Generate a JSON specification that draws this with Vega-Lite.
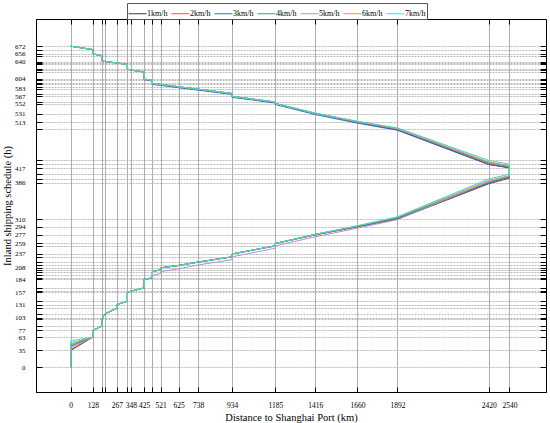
{
 "$schema": "https://vega.github.io/schema/vega-lite/v6.json",
 "width": 510, "height": 373,
 "autosize": {"type": "none"},
 "padding": {"left": 36, "top": 19, "right": 4, "bottom": 31},
 "config": {
  "font": "Liberation Serif",
  "view": {"stroke": "#000", "strokeWidth": 1},
  "axis": {"labelFont": "Liberation Serif", "titleFont": "Liberation Serif", "labelFontSize": 7.5, "titleFontSize": 10.5, "titleFontWeight": "normal", "labelColor": "#000", "titleColor": "#000", "domainColor": "#000", "tickColor": "#000", "domainWidth": 1, "tickWidth": 1, "labelOverlap": false, "labelFlush": false, "labelBound": false}
 },
 "datasets": {
  "rows": [
{"s":"1km/h","i":0,"d":0,"t":0},{"s":"1km/h","i":1,"d":0,"t":35},{"s":"1km/h","i":2,"d":128,"t":63},{"s":"1km/h","i":3,"d":128,"t":77},{"s":"1km/h","i":4,"d":180,"t":86},{"s":"1km/h","i":5,"d":180,"t":100},{"s":"1km/h","i":6,"d":199,"t":112},{"s":"1km/h","i":7,"d":267,"t":123},{"s":"1km/h","i":8,"d":267,"t":131},{"s":"1km/h","i":9,"d":328,"t":138},{"s":"1km/h","i":10,"d":328,"t":157},{"s":"1km/h","i":11,"d":348,"t":159},{"s":"1km/h","i":12,"d":425,"t":166},{"s":"1km/h","i":13,"d":425,"t":184},{"s":"1km/h","i":14,"d":473,"t":187},{"s":"1km/h","i":15,"d":473,"t":200},{"s":"1km/h","i":16,"d":521,"t":204},{"s":"1km/h","i":17,"d":521,"t":208},{"s":"1km/h","i":18,"d":625,"t":213},{"s":"1km/h","i":19,"d":738,"t":220},{"s":"1km/h","i":20,"d":934,"t":231},{"s":"1km/h","i":21,"d":934,"t":237},{"s":"1km/h","i":22,"d":1185,"t":254},{"s":"1km/h","i":23,"d":1185,"t":259},{"s":"1km/h","i":24,"d":1416,"t":277},{"s":"1km/h","i":25,"d":1660,"t":294},{"s":"1km/h","i":26,"d":1892,"t":310},{"s":"1km/h","i":27,"d":2420,"t":384},{"s":"1km/h","i":28,"d":2540,"t":396},{"s":"1km/h","i":29,"d":2540,"t":417},{"s":"1km/h","i":30,"d":2420,"t":425},{"s":"1km/h","i":31,"d":1892,"t":497},{"s":"1km/h","i":32,"d":1660,"t":513},{"s":"1km/h","i":33,"d":1416,"t":531},{"s":"1km/h","i":34,"d":1185,"t":552},{"s":"1km/h","i":35,"d":1185,"t":555},{"s":"1km/h","i":36,"d":934,"t":567},{"s":"1km/h","i":37,"d":934,"t":573},{"s":"1km/h","i":38,"d":738,"t":582},{"s":"1km/h","i":39,"d":625,"t":587},{"s":"1km/h","i":40,"d":521,"t":592},{"s":"1km/h","i":41,"d":473,"t":594},{"s":"1km/h","i":42,"d":473,"t":601},{"s":"1km/h","i":43,"d":425,"t":603},{"s":"1km/h","i":44,"d":425,"t":618},{"s":"1km/h","i":45,"d":348,"t":622},{"s":"1km/h","i":46,"d":328,"t":624},{"s":"1km/h","i":47,"d":328,"t":634},{"s":"1km/h","i":48,"d":267,"t":637},{"s":"1km/h","i":49,"d":199,"t":640},{"s":"1km/h","i":50,"d":180,"t":641},{"s":"1km/h","i":51,"d":180,"t":652},{"s":"1km/h","i":52,"d":128,"t":656},{"s":"1km/h","i":53,"d":128,"t":665},{"s":"1km/h","i":54,"d":0,"t":672},
{"s":"2km/h","i":0,"d":0,"t":0},{"s":"2km/h","i":1,"d":0,"t":37},{"s":"2km/h","i":2,"d":128,"t":63},{"s":"2km/h","i":3,"d":128,"t":77},{"s":"2km/h","i":4,"d":180,"t":86},{"s":"2km/h","i":5,"d":180,"t":100},{"s":"2km/h","i":6,"d":199,"t":112},{"s":"2km/h","i":7,"d":267,"t":123},{"s":"2km/h","i":8,"d":267,"t":131},{"s":"2km/h","i":9,"d":328,"t":138},{"s":"2km/h","i":10,"d":328,"t":157},{"s":"2km/h","i":11,"d":348,"t":159},{"s":"2km/h","i":12,"d":425,"t":166},{"s":"2km/h","i":13,"d":425,"t":184},{"s":"2km/h","i":14,"d":473,"t":187},{"s":"2km/h","i":15,"d":473,"t":200},{"s":"2km/h","i":16,"d":521,"t":204},{"s":"2km/h","i":17,"d":521,"t":208},{"s":"2km/h","i":18,"d":625,"t":213},{"s":"2km/h","i":19,"d":738,"t":220},{"s":"2km/h","i":20,"d":934,"t":231},{"s":"2km/h","i":21,"d":934,"t":237},{"s":"2km/h","i":22,"d":1185,"t":254},{"s":"2km/h","i":23,"d":1185,"t":259},{"s":"2km/h","i":24,"d":1416,"t":277},{"s":"2km/h","i":25,"d":1660,"t":294},{"s":"2km/h","i":26,"d":1892,"t":311},{"s":"2km/h","i":27,"d":2420,"t":385},{"s":"2km/h","i":28,"d":2540,"t":397},{"s":"2km/h","i":29,"d":2540,"t":418},{"s":"2km/h","i":30,"d":2420,"t":426},{"s":"2km/h","i":31,"d":1892,"t":498},{"s":"2km/h","i":32,"d":1660,"t":513},{"s":"2km/h","i":33,"d":1416,"t":531},{"s":"2km/h","i":34,"d":1185,"t":552},{"s":"2km/h","i":35,"d":1185,"t":555},{"s":"2km/h","i":36,"d":934,"t":567},{"s":"2km/h","i":37,"d":934,"t":573},{"s":"2km/h","i":38,"d":738,"t":582},{"s":"2km/h","i":39,"d":625,"t":587},{"s":"2km/h","i":40,"d":521,"t":592},{"s":"2km/h","i":41,"d":473,"t":594},{"s":"2km/h","i":42,"d":473,"t":601},{"s":"2km/h","i":43,"d":425,"t":603},{"s":"2km/h","i":44,"d":425,"t":618},{"s":"2km/h","i":45,"d":348,"t":622},{"s":"2km/h","i":46,"d":328,"t":624},{"s":"2km/h","i":47,"d":328,"t":634},{"s":"2km/h","i":48,"d":267,"t":637},{"s":"2km/h","i":49,"d":199,"t":640},{"s":"2km/h","i":50,"d":180,"t":641},{"s":"2km/h","i":51,"d":180,"t":652},{"s":"2km/h","i":52,"d":128,"t":656},{"s":"2km/h","i":53,"d":128,"t":665},{"s":"2km/h","i":54,"d":0,"t":672},
{"s":"3km/h","i":0,"d":0,"t":0},{"s":"3km/h","i":1,"d":0,"t":44},{"s":"3km/h","i":2,"d":128,"t":63},{"s":"3km/h","i":3,"d":128,"t":77},{"s":"3km/h","i":4,"d":180,"t":86},{"s":"3km/h","i":5,"d":180,"t":100},{"s":"3km/h","i":6,"d":199,"t":112},{"s":"3km/h","i":7,"d":267,"t":123},{"s":"3km/h","i":8,"d":267,"t":131},{"s":"3km/h","i":9,"d":328,"t":138},{"s":"3km/h","i":10,"d":328,"t":157},{"s":"3km/h","i":11,"d":348,"t":159},{"s":"3km/h","i":12,"d":425,"t":166},{"s":"3km/h","i":13,"d":425,"t":184},{"s":"3km/h","i":14,"d":473,"t":187},{"s":"3km/h","i":15,"d":473,"t":200},{"s":"3km/h","i":16,"d":521,"t":204},{"s":"3km/h","i":17,"d":521,"t":208},{"s":"3km/h","i":18,"d":625,"t":213},{"s":"3km/h","i":19,"d":738,"t":220},{"s":"3km/h","i":20,"d":934,"t":231},{"s":"3km/h","i":21,"d":934,"t":237},{"s":"3km/h","i":22,"d":1185,"t":254},{"s":"3km/h","i":23,"d":1185,"t":259},{"s":"3km/h","i":24,"d":1416,"t":278},{"s":"3km/h","i":25,"d":1660,"t":295},{"s":"3km/h","i":26,"d":1892,"t":312},{"s":"3km/h","i":27,"d":2420,"t":386},{"s":"3km/h","i":28,"d":2540,"t":398},{"s":"3km/h","i":29,"d":2540,"t":418},{"s":"3km/h","i":30,"d":2420,"t":424},{"s":"3km/h","i":31,"d":1892,"t":496},{"s":"3km/h","i":32,"d":1660,"t":511},{"s":"3km/h","i":33,"d":1416,"t":529},{"s":"3km/h","i":34,"d":1185,"t":550},{"s":"3km/h","i":35,"d":1185,"t":553},{"s":"3km/h","i":36,"d":934,"t":565},{"s":"3km/h","i":37,"d":934,"t":571},{"s":"3km/h","i":38,"d":738,"t":580},{"s":"3km/h","i":39,"d":625,"t":585},{"s":"3km/h","i":40,"d":521,"t":590},{"s":"3km/h","i":41,"d":473,"t":592},{"s":"3km/h","i":42,"d":473,"t":599},{"s":"3km/h","i":43,"d":425,"t":602},{"s":"3km/h","i":44,"d":425,"t":618},{"s":"3km/h","i":45,"d":348,"t":622},{"s":"3km/h","i":46,"d":328,"t":624},{"s":"3km/h","i":47,"d":328,"t":634},{"s":"3km/h","i":48,"d":267,"t":637},{"s":"3km/h","i":49,"d":199,"t":640},{"s":"3km/h","i":50,"d":180,"t":641},{"s":"3km/h","i":51,"d":180,"t":652},{"s":"3km/h","i":52,"d":128,"t":656},{"s":"3km/h","i":53,"d":128,"t":665},{"s":"3km/h","i":54,"d":0,"t":672},
{"s":"4km/h","i":0,"d":0,"t":0},{"s":"4km/h","i":1,"d":0,"t":47},{"s":"4km/h","i":2,"d":128,"t":63},{"s":"4km/h","i":3,"d":128,"t":77},{"s":"4km/h","i":4,"d":180,"t":86},{"s":"4km/h","i":5,"d":180,"t":100},{"s":"4km/h","i":6,"d":199,"t":112},{"s":"4km/h","i":7,"d":267,"t":123},{"s":"4km/h","i":8,"d":267,"t":131},{"s":"4km/h","i":9,"d":328,"t":138},{"s":"4km/h","i":10,"d":328,"t":157},{"s":"4km/h","i":11,"d":348,"t":159},{"s":"4km/h","i":12,"d":425,"t":166},{"s":"4km/h","i":13,"d":425,"t":184},{"s":"4km/h","i":14,"d":473,"t":187},{"s":"4km/h","i":15,"d":473,"t":200},{"s":"4km/h","i":16,"d":521,"t":204},{"s":"4km/h","i":17,"d":521,"t":208},{"s":"4km/h","i":18,"d":625,"t":213},{"s":"4km/h","i":19,"d":738,"t":220},{"s":"4km/h","i":20,"d":934,"t":231},{"s":"4km/h","i":21,"d":934,"t":237},{"s":"4km/h","i":22,"d":1185,"t":254},{"s":"4km/h","i":23,"d":1185,"t":259},{"s":"4km/h","i":24,"d":1416,"t":278},{"s":"4km/h","i":25,"d":1660,"t":295},{"s":"4km/h","i":26,"d":1892,"t":313},{"s":"4km/h","i":27,"d":2420,"t":388},{"s":"4km/h","i":28,"d":2540,"t":399},{"s":"4km/h","i":29,"d":2540,"t":420},{"s":"4km/h","i":30,"d":2420,"t":428},{"s":"4km/h","i":31,"d":1892,"t":499},{"s":"4km/h","i":32,"d":1660,"t":514},{"s":"4km/h","i":33,"d":1416,"t":531},{"s":"4km/h","i":34,"d":1185,"t":552},{"s":"4km/h","i":35,"d":1185,"t":555},{"s":"4km/h","i":36,"d":934,"t":567},{"s":"4km/h","i":37,"d":934,"t":573},{"s":"4km/h","i":38,"d":738,"t":582},{"s":"4km/h","i":39,"d":625,"t":587},{"s":"4km/h","i":40,"d":521,"t":592},{"s":"4km/h","i":41,"d":473,"t":594},{"s":"4km/h","i":42,"d":473,"t":601},{"s":"4km/h","i":43,"d":425,"t":603},{"s":"4km/h","i":44,"d":425,"t":618},{"s":"4km/h","i":45,"d":348,"t":622},{"s":"4km/h","i":46,"d":328,"t":624},{"s":"4km/h","i":47,"d":328,"t":634},{"s":"4km/h","i":48,"d":267,"t":637},{"s":"4km/h","i":49,"d":199,"t":640},{"s":"4km/h","i":50,"d":180,"t":641},{"s":"4km/h","i":51,"d":180,"t":652},{"s":"4km/h","i":52,"d":128,"t":656},{"s":"4km/h","i":53,"d":128,"t":665},{"s":"4km/h","i":54,"d":0,"t":672},
{"s":"5km/h","i":0,"d":0,"t":0},{"s":"5km/h","i":1,"d":0,"t":41},{"s":"5km/h","i":2,"d":128,"t":63},{"s":"5km/h","i":3,"d":128,"t":77},{"s":"5km/h","i":4,"d":180,"t":86},{"s":"5km/h","i":5,"d":180,"t":100},{"s":"5km/h","i":6,"d":199,"t":112},{"s":"5km/h","i":7,"d":267,"t":123},{"s":"5km/h","i":8,"d":267,"t":131},{"s":"5km/h","i":9,"d":328,"t":138},{"s":"5km/h","i":10,"d":328,"t":157},{"s":"5km/h","i":11,"d":348,"t":159},{"s":"5km/h","i":12,"d":425,"t":166},{"s":"5km/h","i":13,"d":425,"t":184},{"s":"5km/h","i":14,"d":473,"t":187},{"s":"5km/h","i":15,"d":473,"t":192},{"s":"5km/h","i":16,"d":521,"t":196},{"s":"5km/h","i":17,"d":521,"t":200},{"s":"5km/h","i":18,"d":625,"t":206},{"s":"5km/h","i":19,"d":738,"t":214},{"s":"5km/h","i":20,"d":934,"t":225},{"s":"5km/h","i":21,"d":934,"t":231},{"s":"5km/h","i":22,"d":1185,"t":249},{"s":"5km/h","i":23,"d":1185,"t":254},{"s":"5km/h","i":24,"d":1416,"t":273},{"s":"5km/h","i":25,"d":1660,"t":291},{"s":"5km/h","i":26,"d":1892,"t":309},{"s":"5km/h","i":27,"d":2420,"t":389},{"s":"5km/h","i":28,"d":2540,"t":400},{"s":"5km/h","i":29,"d":2540,"t":421},{"s":"5km/h","i":30,"d":2420,"t":429},{"s":"5km/h","i":31,"d":1892,"t":499},{"s":"5km/h","i":32,"d":1660,"t":514},{"s":"5km/h","i":33,"d":1416,"t":531},{"s":"5km/h","i":34,"d":1185,"t":552},{"s":"5km/h","i":35,"d":1185,"t":555},{"s":"5km/h","i":36,"d":934,"t":567},{"s":"5km/h","i":37,"d":934,"t":573},{"s":"5km/h","i":38,"d":738,"t":582},{"s":"5km/h","i":39,"d":625,"t":587},{"s":"5km/h","i":40,"d":521,"t":592},{"s":"5km/h","i":41,"d":473,"t":594},{"s":"5km/h","i":42,"d":473,"t":601},{"s":"5km/h","i":43,"d":425,"t":603},{"s":"5km/h","i":44,"d":425,"t":618},{"s":"5km/h","i":45,"d":348,"t":622},{"s":"5km/h","i":46,"d":328,"t":624},{"s":"5km/h","i":47,"d":328,"t":634},{"s":"5km/h","i":48,"d":267,"t":637},{"s":"5km/h","i":49,"d":199,"t":640},{"s":"5km/h","i":50,"d":180,"t":641},{"s":"5km/h","i":51,"d":180,"t":652},{"s":"5km/h","i":52,"d":128,"t":656},{"s":"5km/h","i":53,"d":128,"t":665},{"s":"5km/h","i":54,"d":0,"t":672},
{"s":"6km/h","i":0,"d":0,"t":0},{"s":"6km/h","i":1,"d":0,"t":51},{"s":"6km/h","i":2,"d":128,"t":63},{"s":"6km/h","i":3,"d":128,"t":77},{"s":"6km/h","i":4,"d":180,"t":86},{"s":"6km/h","i":5,"d":180,"t":100},{"s":"6km/h","i":6,"d":199,"t":112},{"s":"6km/h","i":7,"d":267,"t":123},{"s":"6km/h","i":8,"d":267,"t":131},{"s":"6km/h","i":9,"d":328,"t":138},{"s":"6km/h","i":10,"d":328,"t":157},{"s":"6km/h","i":11,"d":348,"t":159},{"s":"6km/h","i":12,"d":425,"t":166},{"s":"6km/h","i":13,"d":425,"t":184},{"s":"6km/h","i":14,"d":473,"t":187},{"s":"6km/h","i":15,"d":473,"t":200},{"s":"6km/h","i":16,"d":521,"t":204},{"s":"6km/h","i":17,"d":521,"t":208},{"s":"6km/h","i":18,"d":625,"t":213},{"s":"6km/h","i":19,"d":738,"t":220},{"s":"6km/h","i":20,"d":934,"t":231},{"s":"6km/h","i":21,"d":934,"t":237},{"s":"6km/h","i":22,"d":1185,"t":254},{"s":"6km/h","i":23,"d":1185,"t":259},{"s":"6km/h","i":24,"d":1416,"t":278},{"s":"6km/h","i":25,"d":1660,"t":296},{"s":"6km/h","i":26,"d":1892,"t":314},{"s":"6km/h","i":27,"d":2420,"t":391},{"s":"6km/h","i":28,"d":2540,"t":401},{"s":"6km/h","i":29,"d":2540,"t":422},{"s":"6km/h","i":30,"d":2420,"t":430},{"s":"6km/h","i":31,"d":1892,"t":500},{"s":"6km/h","i":32,"d":1660,"t":514},{"s":"6km/h","i":33,"d":1416,"t":532},{"s":"6km/h","i":34,"d":1185,"t":552},{"s":"6km/h","i":35,"d":1185,"t":555},{"s":"6km/h","i":36,"d":934,"t":567},{"s":"6km/h","i":37,"d":934,"t":573},{"s":"6km/h","i":38,"d":738,"t":582},{"s":"6km/h","i":39,"d":625,"t":587},{"s":"6km/h","i":40,"d":521,"t":592},{"s":"6km/h","i":41,"d":473,"t":594},{"s":"6km/h","i":42,"d":473,"t":601},{"s":"6km/h","i":43,"d":425,"t":603},{"s":"6km/h","i":44,"d":425,"t":618},{"s":"6km/h","i":45,"d":348,"t":622},{"s":"6km/h","i":46,"d":328,"t":624},{"s":"6km/h","i":47,"d":328,"t":634},{"s":"6km/h","i":48,"d":267,"t":637},{"s":"6km/h","i":49,"d":199,"t":640},{"s":"6km/h","i":50,"d":180,"t":641},{"s":"6km/h","i":51,"d":180,"t":652},{"s":"6km/h","i":52,"d":128,"t":656},{"s":"6km/h","i":53,"d":128,"t":665},{"s":"6km/h","i":54,"d":0,"t":672},
{"s":"7km/h","i":0,"d":0,"t":0},{"s":"7km/h","i":1,"d":0,"t":55},{"s":"7km/h","i":2,"d":128,"t":63},{"s":"7km/h","i":3,"d":128,"t":77},{"s":"7km/h","i":4,"d":180,"t":86},{"s":"7km/h","i":5,"d":180,"t":100},{"s":"7km/h","i":6,"d":199,"t":112},{"s":"7km/h","i":7,"d":267,"t":123},{"s":"7km/h","i":8,"d":267,"t":131},{"s":"7km/h","i":9,"d":328,"t":138},{"s":"7km/h","i":10,"d":328,"t":157},{"s":"7km/h","i":11,"d":348,"t":159},{"s":"7km/h","i":12,"d":425,"t":166},{"s":"7km/h","i":13,"d":425,"t":184},{"s":"7km/h","i":14,"d":473,"t":187},{"s":"7km/h","i":15,"d":473,"t":200},{"s":"7km/h","i":16,"d":521,"t":204},{"s":"7km/h","i":17,"d":521,"t":208},{"s":"7km/h","i":18,"d":625,"t":213},{"s":"7km/h","i":19,"d":738,"t":220},{"s":"7km/h","i":20,"d":934,"t":231},{"s":"7km/h","i":21,"d":934,"t":237},{"s":"7km/h","i":22,"d":1185,"t":254},{"s":"7km/h","i":23,"d":1185,"t":259},{"s":"7km/h","i":24,"d":1416,"t":278},{"s":"7km/h","i":25,"d":1660,"t":296},{"s":"7km/h","i":26,"d":1892,"t":315},{"s":"7km/h","i":27,"d":2420,"t":394},{"s":"7km/h","i":28,"d":2540,"t":404},{"s":"7km/h","i":29,"d":2540,"t":425},{"s":"7km/h","i":30,"d":2420,"t":433},{"s":"7km/h","i":31,"d":1892,"t":501},{"s":"7km/h","i":32,"d":1660,"t":515},{"s":"7km/h","i":33,"d":1416,"t":532},{"s":"7km/h","i":34,"d":1185,"t":552},{"s":"7km/h","i":35,"d":1185,"t":555},{"s":"7km/h","i":36,"d":934,"t":567},{"s":"7km/h","i":37,"d":934,"t":573},{"s":"7km/h","i":38,"d":738,"t":582},{"s":"7km/h","i":39,"d":625,"t":587},{"s":"7km/h","i":40,"d":521,"t":592},{"s":"7km/h","i":41,"d":473,"t":594},{"s":"7km/h","i":42,"d":473,"t":601},{"s":"7km/h","i":43,"d":425,"t":603},{"s":"7km/h","i":44,"d":425,"t":618},{"s":"7km/h","i":45,"d":348,"t":622},{"s":"7km/h","i":46,"d":328,"t":624},{"s":"7km/h","i":47,"d":328,"t":634},{"s":"7km/h","i":48,"d":267,"t":637},{"s":"7km/h","i":49,"d":199,"t":640},{"s":"7km/h","i":50,"d":180,"t":641},{"s":"7km/h","i":51,"d":180,"t":652},{"s":"7km/h","i":52,"d":128,"t":656},{"s":"7km/h","i":53,"d":128,"t":665},{"s":"7km/h","i":54,"d":0,"t":672}
  ]
 },
 "data": {"name": "rows"},
 "layer": [
  {
   "mark": {"type": "line", "strokeWidth": 1, "clip": true},
   "encoding": {
    "x": {"field": "d", "type": "quantitative", "scale": {"domain": [-201, 2752], "nice": false, "zero": false},
     "axis": {"orient": "bottom", "format": "d", "values": [0,128,180,199,267,328,348,425,473,521,625,738,934,1185,1416,1660,1892,2420,2540],
      "labelExpr": "indexof([180,199,328,473], datum.value) >= 0 ? '' : datum.label",
      "grid": true, "gridColor": "#999", "gridWidth": 0.8, "tickSize": -5, "labelPadding": 14, "labelAngle": 0,
      "title": "Distance to Shanghai Port (km)", "titlePadding": 4}},
    "y": {"field": "t", "type": "quantitative", "scale": {"domain": [-52, 729], "nice": false, "zero": false},
     "axis": {"orient": "left", "format": "d", "values": [0,35,63,77,86,100,103,112,123,131,138,157,159,166,184,187,192,200,204,208,213,220,231,237,254,259,277,294,310,386,394,404,417,425,433,498,513,531,552,555,567,573,583,587,592,594,601,604,618,622,624,634,637,640,652,656,665,672],
      "labelExpr": "indexof([0,35,63,77,103,131,157,184,208,237,259,277,294,310,386,417,513,531,552,567,583,604,640,656,672], datum.value) >= 0 ? datum.label : ''",
      "grid": true, "gridColor": "#aaa", "gridWidth": 0.8, "gridDash": [2, 1], "tickSize": -6, "labelPadding": 17, "labelFontSize": 7,
      "title": "Inland shipping schedule (h)", "titleX": -24, "titleBaseline": "bottom"}},
    "color": {"field": "s", "type": "nominal",
     "scale": {"domain": ["1km/h","2km/h","3km/h","4km/h","5km/h","6km/h","7km/h"], "range": ["#3a3a3a","#f0504f","#3366cc","#20b070","#b08ee8","#e0a030","#30e0d8"]},
     "legend": {"orient": "none", "legendX": 91, "legendY": -16, "direction": "horizontal", "title": null, "symbolType": "stroke", "symbolSize": 324, "symbolStrokeWidth": 1, "labelFontSize": 8, "labelFont": "Liberation Serif", "labelOffset": 0, "columnPadding": 1, "padding": 1, "strokeColor": "#555", "fillColor": "#fff", "symbolLimit": 0}},
    "order": {"field": "i", "type": "quantitative"}
   }
  },
  {
   "mark": {"type": "point", "opacity": 0},
   "encoding": {
    "x": {"field": "d", "type": "quantitative",
     "axis": {"orient": "top", "values": [0,128,180,199,267,328,348,425,473,521,625,738,934,1185,1416,1660,1892,2420,2540], "labels": false, "grid": false, "domain": false, "tickSize": -5, "title": null}},
    "y": {"field": "t", "type": "quantitative",
     "axis": {"orient": "right", "values": [0,35,63,77,86,100,103,112,123,131,138,157,159,166,184,187,192,200,204,208,213,220,231,237,254,259,277,294,310,386,394,404,417,425,433,498,513,531,552,555,567,573,583,587,592,594,601,604,618,622,624,634,637,640,652,656,665,672], "labels": false, "grid": false, "domain": false, "tickSize": -6, "title": null}}
   }
  }
 ],
 "resolve": {"axis": {"x": "independent", "y": "independent"}}
}
